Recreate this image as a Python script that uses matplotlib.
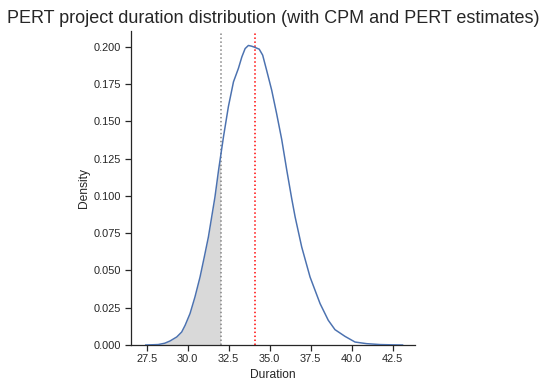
import numpy as np
import matplotlib
matplotlib.use("Agg")
import matplotlib.pyplot as plt

# Data (KDE curve of simulated project durations)
duration = [27.44, 28.2, 28.6, 28.92, 29.33, 29.63, 29.84, 30.14, 30.44, 30.75,
            31.01, 31.26, 31.46, 31.66, 31.88, 32.18, 32.48, 32.79, 33.09, 33.3,
            33.5, 33.7, 33.9, 34.1, 34.36, 34.57, 34.81, 35.12, 35.42, 35.73,
            36.04, 36.34, 36.55, 36.95, 37.46, 38.07, 38.57, 38.98, 39.59, 40.2,
            40.91, 41.72, 42.5, 43.1]
density = [0.0, 0.0003, 0.0012, 0.0027, 0.0054, 0.0087, 0.0132, 0.0211, 0.0322, 0.0456,
           0.0591, 0.0725, 0.0859, 0.0993, 0.1173, 0.1397, 0.1600, 0.1766, 0.1856, 0.1933,
           0.1989, 0.2010, 0.2005, 0.1997, 0.1985, 0.1945, 0.1844, 0.1710, 0.1553, 0.1380,
           0.1173, 0.0983, 0.0859, 0.0658, 0.0456, 0.0278, 0.0166, 0.0103, 0.0058, 0.0020,
           0.0009, 0.0003, 0.0001, 0.0]
cpm_estimate = 32.0
pert_estimate = 34.1

plt.rcParams['font.family'] = ['Liberation Sans', 'DejaVu Sans']
W, H = 547, 386
fig = plt.figure(figsize=(W / 72, H / 72), dpi=72)
ax = fig.add_axes([131 / W, (H - 345) / H, (415 - 131) / W, (345 - 31) / H])

x = np.array(duration)
y = np.array(density)
ax.plot(x, y, color='#4c72b0', lw=1.5, zorder=3)

# shade the area left of the CPM estimate
mask = x <= cpm_estimate
xf = np.append(x[mask], cpm_estimate)
yf = np.append(y[mask], np.interp(cpm_estimate, x, y))
ax.fill_between(xf, 0, yf, color='#d9d9d9', lw=0, zorder=1)

ax.axvline(cpm_estimate, color='gray', ls=':', lw=1.5, zorder=2)
ax.axvline(pert_estimate, color='red', ls=':', lw=1.5, zorder=2)

ax.set_xlim(26.54, 43.86)
ax.set_ylim(0, 0.2107)
ax.set_xticks(np.arange(27.5, 43, 2.5))
ax.set_yticks(np.arange(0, 0.201, 0.025))
ax.xaxis.set_major_formatter(matplotlib.ticker.FormatStrFormatter('%.1f'))
ax.yaxis.set_major_formatter(matplotlib.ticker.FormatStrFormatter('%.3f'))

for s in ['top', 'right']:
    ax.spines[s].set_visible(False)
for s in ['left', 'bottom']:
    ax.spines[s].set_color('#262626')
    ax.spines[s].set_linewidth(1.25)
ax.tick_params(axis='both', length=6, width=1.25, color='#262626',
               labelsize=11, labelcolor='#262626', pad=3.5)

ax.set_xlabel('Duration', fontsize=12, color='#262626')
ax.set_ylabel('Density', fontsize=12, color='#262626')
ax.set_title('PERT project duration distribution (with CPM and PERT estimates)',
             fontsize=18, color='#262626', pad=8)

fig.savefig('out.png', dpi=72)
